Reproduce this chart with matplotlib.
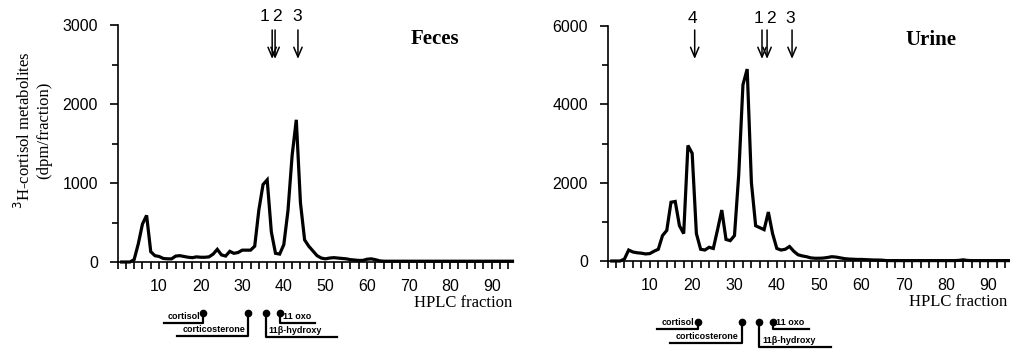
import numpy as np
import matplotlib.pyplot as plt
from matplotlib.ticker import MultipleLocator

# HPLC fractions 1..95
fractions = np.arange(1, 96)

feces = [0, 0, 0, 30, 230, 480, 590, 130, 80, 70,
         45, 40, 40, 75, 80, 70, 60, 55, 65, 60,
         60, 65, 100, 160, 90, 75, 135, 110, 120, 150,
         150, 150, 200, 660, 980, 1040, 380, 110, 100, 220,
         650, 1350, 1800, 750, 280, 200, 140, 80, 50, 40,
         50, 55, 50, 45, 40, 30, 25, 20, 20, 35,
         40, 30, 15] + [10] * 32

urine = [0, 0, 0, 50, 280, 230, 210, 200, 180, 190,
         250, 300, 650, 780, 1500, 1520, 900, 700, 2950, 2750,
         700, 300, 280, 350, 320, 800, 1300, 550, 520, 650,
         2200, 4500, 4900, 2000, 900, 850, 800, 1250, 700, 320,
         280, 300, 370, 250, 160, 130, 110, 80, 70, 70,
         75, 90, 110, 100, 80, 60, 50, 45, 40, 40,
         35, 30, 25, 25, 20] + [10] * 17 + [15, 30, 15] + [10] * 10

feces_arrows = [37.2, 37.9, 43.4]
feces_arrow_labels = ["1", "2", "3"]
feces_label_x = [35.3, 38.4, 43.2]
urine_arrows = [20.6, 36.5, 37.7, 43.6]
urine_arrow_labels = ["4", "1", "2", "3"]
urine_label_x = [20.1, 35.7, 38.5, 43.1]

# standards retention (fraction) : cortisol, corticosterone, 11b-hydroxy, 11 oxo
feces_std = [20.6, 31.4, 35.7, 39.1]
urine_std = [21.3, 31.7, 35.8, 39.1]

serif = "Liberation Serif"
sans = "Liberation Sans"

fig = plt.figure(figsize=(10.10, 3.51), dpi=100)
ax1 = fig.add_axes([117.5 / 1010, 1 - 262 / 351, 395 / 1010, 237 / 351])
ax2 = fig.add_axes([607.5 / 1010, 1 - 261 / 351, 400 / 1010, 235 / 351])


def style_axis(ax, ymax, ymajor, yminor, xmax):
    ax.set_xlim(0, xmax)
    ax.set_ylim(0, ymax)
    for s in ["top", "right"]:
        ax.spines[s].set_visible(False)
    ax.spines["left"].set_linewidth(1.2)
    ax.spines["bottom"].set_linewidth(1.2)
    ax.xaxis.set_major_locator(MultipleLocator(10))
    ax.xaxis.set_minor_locator(MultipleLocator(2))
    ax.yaxis.set_major_locator(MultipleLocator(ymajor))
    ax.yaxis.set_minor_locator(MultipleLocator(yminor))
    ax.tick_params(axis="x", which="both", direction="out", length=5, width=1.2, pad=7)
    ax.tick_params(axis="y", which="major", direction="out", length=6, width=1.2, pad=8)
    ax.tick_params(axis="y", which="minor", direction="out", length=4, width=1.2)
    ax.set_xticks(np.arange(10, 91, 10))
    for lab in ax.get_xticklabels() + ax.get_yticklabels():
        lab.set_family(sans)
        lab.set_fontsize(11.5)
    ax.text(1.0, -0.175, "HPLC fraction", transform=ax.transAxes, ha="right",
            va="center", family=serif, fontsize=12)


def draw_arrows(ax, xs, labels, label_x, ytop, ybot, ylab):
    tr = ax.get_xaxis_transform()
    for x in xs:
        ax.annotate("", xy=(x, ybot), xytext=(x, ytop), xycoords=tr, textcoords=tr,
                    arrowprops=dict(arrowstyle="->,head_length=0.7,head_width=0.3",
                                    lw=1.1, color="black", shrinkA=0, shrinkB=0),
                    annotation_clip=False)
    for lx, l in zip(label_x, labels):
        ax.text(lx, ylab, l, transform=tr, ha="center", va="center",
                family=sans, fontsize=12.5, clip_on=False)


def draw_standards(ax, std, bottom_px, height_px, ydot, yu1, yu2, yb):
    tr = ax.get_xaxis_transform()
    f = lambda py: (bottom_px - py) / height_px
    kw = dict(transform=tr, clip_on=False, color="black", lw=1.6)
    tkw = dict(transform=tr, fontsize=6.5, family=sans, fontweight="bold", va="bottom")
    dot = dict(ms=4.5, color="black", transform=tr, clip_on=False)
    c, cs, hb, ox = std
    # cortisol
    ax.plot([c], [f(ydot)], "o", **dot)
    ax.plot([c, c, c - 9.5], [f(ydot), f(yu1), f(yu1)], **kw)
    ax.text(c - 0.7, f(yu1) + 0.008, "cortisol", ha="right", **tkw)
    # corticosterone
    ax.plot([cs], [f(ydot)], "o", **dot)
    ax.plot([cs, cs, cs - 17], [f(ydot), f(yu2), f(yu2)], **kw)
    ax.text(cs - 0.7, f(yu2) + 0.008, "corticosterone", ha="right", **tkw)
    # 11b-hydroxy
    ax.plot([hb], [f(ydot)], "o", **dot)
    ax.plot([hb, hb, hb + 17], [f(ydot), f(yb), f(yb)], **kw)
    ax.text(hb + 0.7, f(yb) + 0.008, "11β-hydroxy", ha="left", **tkw)
    # 11 oxo
    ax.plot([ox], [f(ydot)], "o", **dot)
    ax.plot([ox, ox, ox + 8.5], [f(ydot), f(yu1), f(yu1)], **kw)
    ax.text(ox + 0.7, f(yu1) + 0.008, "11 oxo", ha="left", **tkw)


# Feces
ax1.plot(fractions, feces, color="black", lw=2.3, clip_on=False, solid_joinstyle="miter")
style_axis(ax1, 3000, 1000, 500, 95)
ax1.text(0.804, 0.94, "Feces", transform=ax1.transAxes, ha="center", va="center",
         family=serif, fontweight="bold", fontsize=15)
draw_arrows(ax1, feces_arrows, feces_arrow_labels, feces_label_x, 0.979, 0.857, 1.034)
draw_standards(ax1, feces_std, 262, 237, 313, 323, 336, 337)

# Urine
ax2.plot(fractions, urine, color="black", lw=2.3, clip_on=False, solid_joinstyle="miter")
style_axis(ax2, 6000, 2000, 1000, 94.5)
ax2.text(0.809, 0.94, "Urine", transform=ax2.transAxes, ha="center", va="center",
         family=serif, fontweight="bold", fontsize=15)
draw_arrows(ax2, urine_arrows, urine_arrow_labels, urine_label_x, 0.983, 0.860, 1.034)
draw_standards(ax2, urine_std, 261, 235, 322, 329, 343, 347)

fig.text(33 / 1010, 1 - 130 / 351, "$^3$H-cortisol metabolites\n(dpm/fraction)",
         rotation=90, ha="center", va="center", multialignment="center",
         family=serif, fontsize=12)

fig.savefig("out.png", dpi=100)
